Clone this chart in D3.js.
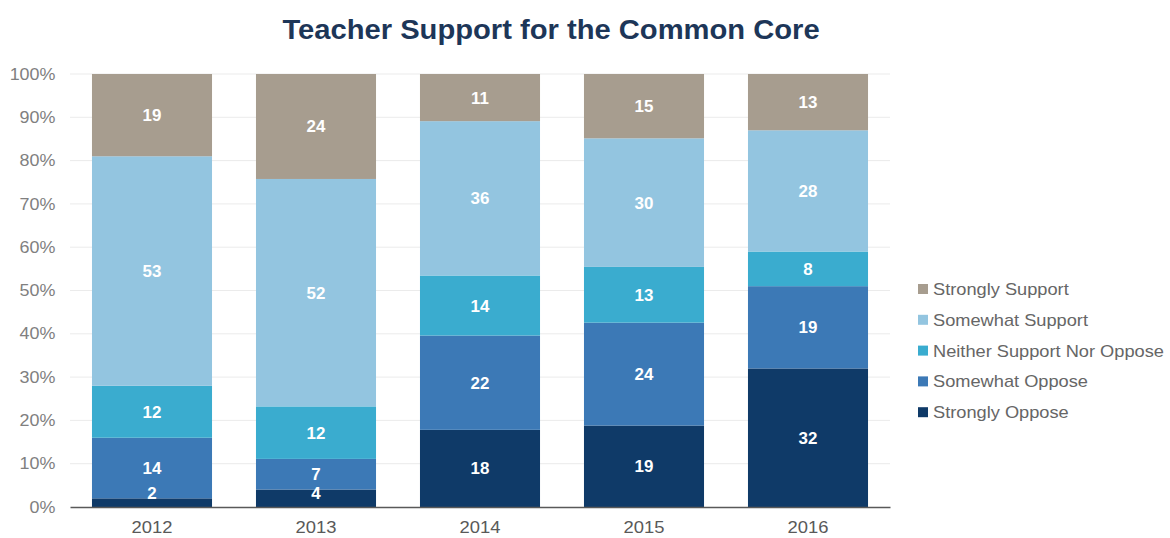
<!DOCTYPE html>
<html>
<head>
<meta charset="utf-8">
<script src="https://cdn.jsdelivr.net/npm/d3@7"></script>
<style>
  body { margin: 0; background: #fff; }
  svg { font-family: "Liberation Sans", Arial, sans-serif; }
</style>
</head>
<body>
<svg id="chart" width="1170" height="538"></svg>
<script>
const years = ["2012", "2013", "2014", "2015", "2016"];
const seriesNames = ["Strongly Oppose", "Somewhat Oppose", "Neither Support Nor Oppose", "Somewhat Support", "Strongly Support"];
const stronglyOppose = [2, 4, 18, 19, 32];
const somewhatOppose = [14, 7, 22, 24, 19];
const neither = [12, 12, 14, 13, 8];
const somewhatSupport = [53, 52, 36, 30, 28];
const stronglySupport = [19, 24, 11, 15, 13];
const yTicks = [0, 0.1, 0.2, 0.3, 0.4, 0.5, 0.6, 0.7, 0.8, 0.9, 1];
const colors = ["#0f3a68", "#3c79b6", "#3aaccf", "#93c5e0", "#a79d8f"];

const values = [stronglyOppose, somewhatOppose, neither, somewhatSupport, stronglySupport];
const rows = years.map((y, i) => {
    const row = { year: y };
    seriesNames.forEach((s, j) => row[s] = values[j][i]);
    return row;
});

const svg = d3.select("#chart");
const margin = { left: 70, right: 280, top: 74, bottom: 31 };
const width = 1170 - margin.left - margin.right;
const height = 538 - margin.top - margin.bottom;

const x = d3.scaleBand().domain(years).range([margin.left, margin.left + width])
    .paddingInner(0.268).paddingOuter(0.134);
const y = d3.scaleLinear().domain([0, 1]).range([margin.top + height, margin.top]);
const color = d3.scaleOrdinal().domain(seriesNames).range(colors);

const stack = d3.stack().keys(seriesNames).offset(d3.stackOffsetExpand);
const stacked = stack(rows);

// the source picture is a bit wider than tall, so text gets stretched sideways
svg.append("text")
    .attr("transform", "translate(551,39) scale(1.08,1)")
    .attr("text-anchor", "middle")
    .attr("font-size", 27).attr("font-weight", "bold")
    .attr("fill", "#1d3658")
    .text("Teacher Support for the Common Core");

// grid
svg.append("g")
    .selectAll("line")
    .data(yTicks.slice(1))
    .join("line")
    .attr("x1", margin.left).attr("x2", margin.left + width)
    .attr("y1", d => y(d)).attr("y2", d => y(d))
    .attr("stroke", "#ebebeb");

const yAxis = svg.append("g")
    .attr("transform", `translate(${margin.left},0)`)
    .call(d3.axisLeft(y).tickValues(yTicks).tickFormat(d3.format(".0%")).tickSize(0).tickPadding(13));
yAxis.select(".domain").remove();
yAxis.selectAll("text")
    .attr("font-size", 16).attr("fill", "#808080")
    .attr("font-family", "Liberation Sans, Arial, sans-serif")
    .attr("transform", "scale(1.12,1)");

const groups = svg.append("g")
    .selectAll("g")
    .data(stacked)
    .join("g")
    .attr("fill", d => color(d.key));

groups.selectAll("rect")
    .data(d => d)
    .join("rect")
    .attr("x", d => x(d.data.year))
    .attr("width", x.bandwidth())
    .attr("y", d => y(d[1]))
    .attr("height", d => y(d[0]) - y(d[1]));

const labels = svg.append("g")
    .selectAll("g")
    .data(stacked)
    .join("g");

labels.selectAll("text")
    .data(d => d.map(p => ({ p, key: d.key })))
    .join("text")
    .attr("transform", d => {
        const cx = x(d.p.data.year) + x.bandwidth() / 2;
        const cy = Math.min((y(d.p[0]) + y(d.p[1])) / 2, y(0) - 14) + 6;
        return `translate(${cx},${cy}) scale(1.06,1)`;
    })
    .attr("text-anchor", "middle")
    .attr("font-size", 16).attr("font-weight", "bold")
    .attr("fill", "#fff")
    .text(d => d.p.data[d.key]);

const xAxis = svg.append("g")
    .attr("transform", `translate(0,${y(0)})`)
    .call(d3.axisBottom(x).tickSize(0).tickPadding(15));
xAxis.select(".domain").attr("stroke", "#595959").attr("stroke-width", 1.5);
xAxis.selectAll("text")
    .attr("font-size", 16).attr("fill", "#595959")
    .attr("font-family", "Liberation Sans, Arial, sans-serif")
    .attr("transform", "scale(1.15,1)");

const legend = svg.append("g")
    .selectAll("g")
    .data(seriesNames.slice().reverse())
    .join("g")
    .attr("transform", (d, i) => `translate(918,${289 + i * 30.8})`);
legend.append("rect")
    .attr("x", 0).attr("y", -5).attr("width", 10).attr("height", 10)
    .attr("fill", d => color(d));
legend.append("text")
    .attr("transform", "translate(15,6) scale(1.14,1)")
    .attr("font-size", 16).attr("fill", "#666")
    .text(d => d);
</script>
</body>
</html>
